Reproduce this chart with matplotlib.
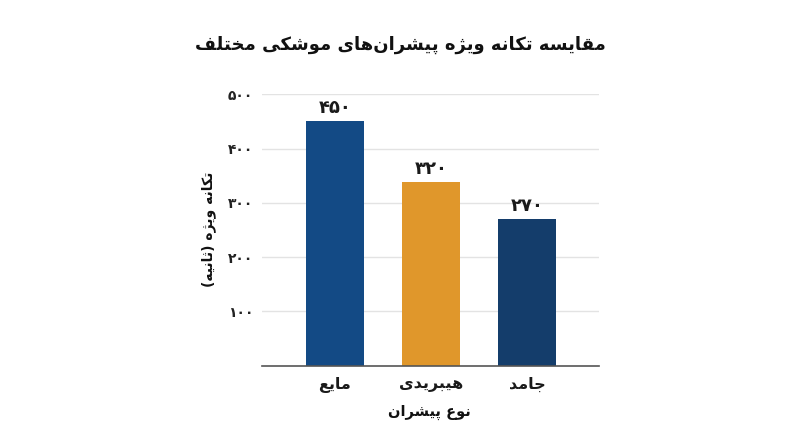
import matplotlib
matplotlib.use("Agg")
import matplotlib.pyplot as plt

# ---------------- data ----------------
title_text = "مقایسه تکانه ویژه پیشران‌های موشکی مختلف"
y_label_text = "تکانه ویژه (ثانیه)"
x_label_text = "نوع پیشران"
categories = ["مایع", "هیبریدی", "جامد"]
values = [450, 338, 270]
value_labels = ["۴۵۰", "۳۲۰", "۲۷۰"]
y_ticks = [100, 200, 300, 400, 500]
y_tick_labels = ["۱۰۰", "۲۰۰", "۳۰۰", "۴۰۰", "۵۰۰"]
bar_colors = ["#134a85", "#e0972b", "#143d6b"]

# ---------------- minimal Arabic/Persian shaping ----------------
FORMS = {  # isolated, final, initial, medial
    "ا": ("\uFE8D", "\uFE8E", None, None),
    "ب": ("\uFE8F", "\uFE90", "\uFE91", "\uFE92"),
    "پ": ("\uFB56", "\uFB57", "\uFB58", "\uFB59"),
    "ت": ("\uFE95", "\uFE96", "\uFE97", "\uFE98"),
    "ث": ("\uFE99", "\uFE9A", "\uFE9B", "\uFE9C"),
    "ج": ("\uFE9D", "\uFE9E", "\uFE9F", "\uFEA0"),
    "خ": ("\uFEA5", "\uFEA6", "\uFEA7", "\uFEA8"),
    "د": ("\uFEA9", "\uFEAA", None, None),
    "ر": ("\uFEAD", "\uFEAE", None, None),
    "ژ": ("\uFB8A", "\uFB8B", None, None),
    "س": ("\uFEB1", "\uFEB2", "\uFEB3", "\uFEB4"),
    "ش": ("\uFEB5", "\uFEB6", "\uFEB7", "\uFEB8"),
    "ع": ("\uFEC9", "\uFECA", "\uFECB", "\uFECC"),
    "ف": ("\uFED1", "\uFED2", "\uFED3", "\uFED4"),
    "ق": ("\uFED5", "\uFED6", "\uFED7", "\uFED8"),
    "ک": ("\uFB8E", "\uFB8F", "\uFB90", "\uFB91"),
    "ل": ("\uFEDD", "\uFEDE", "\uFEDF", "\uFEE0"),
    "م": ("\uFEE1", "\uFEE2", "\uFEE3", "\uFEE4"),
    "ن": ("\uFEE5", "\uFEE6", "\uFEE7", "\uFEE8"),
    "ه": ("\uFEE9", "\uFEEA", "\uFEEB", "\uFEEC"),
    "و": ("\uFEED", "\uFEEE", None, None),
    "ی": ("\uFBFC", "\uFBFD", "\uFBFE", "\uFBFF"),
}


def dual(c):
    return c in FORMS and FORMS[c][2] is not None


def joins(c):
    return c in FORMS


def shape(text):
    out = []
    n = len(text)
    for i, c in enumerate(text):
        if c not in FORMS:
            if c != "\u200c":
                out.append(c)
            continue
        prev = text[i - 1] if i > 0 else ""
        nxt = text[i + 1] if i + 1 < n else ""
        pj = dual(prev)
        nj = dual(c) and joins(nxt)
        iso, fin, ini, med = FORMS[c]
        if pj and nj:
            out.append(med)
        elif pj:
            out.append(fin)
        elif nj:
            out.append(ini)
        else:
            out.append(iso)
    vis = "".join(reversed(out))
    mirror = {"(": ")", ")": "("}
    return "".join(mirror.get(ch, ch) for ch in vis)


FONT = ["DejaVu Sans"]
plt.rcParams["font.family"] = FONT

fig = plt.figure(figsize=(8, 4.47), dpi=100)
ax = fig.add_axes([0.327, 0.182, 0.422, 0.607])

x = list(range(len(categories)))
bars = ax.bar(x, values, width=0.6, color=bar_colors, zorder=3)

for xi, v, lab in zip(x, values, value_labels):
    ax.annotate(lab, (xi, v), xytext=(0, 3), textcoords="offset points",
                ha="center", va="bottom", fontsize=13, fontweight="bold",
                color="#1a1a1a")

ax.set_xlim(-0.76, 2.75)
ax.set_ylim(0, 500)
ax.set_yticks(y_ticks)
ax.set_yticklabels(y_tick_labels, fontsize=10, fontweight="bold", color="#222222")
ax.set_xticks(x)
ax.set_xticklabels([shape(c) for c in categories], fontsize=11.5,
                   fontweight="bold", color="#1a1a1a")
ax.tick_params(axis="both", length=0)
ax.tick_params(axis="y", pad=6)
ax.tick_params(axis="x", pad=8)

ax.grid(axis="y", color="#e3e3e3", linewidth=1, zorder=0)
for s in ["top", "right", "left"]:
    ax.spines[s].set_visible(False)
ax.spines["bottom"].set_color("#555555")
ax.spines["bottom"].set_linewidth(1.2)
ax.spines["bottom"].set_zorder(4)

fig.text(0.5, 1 - 45 / 447, shape(title_text), ha="center", va="center",
         fontsize=13, fontweight="bold", color="#111111")
fig.text(209 / 800, 1 - 229 / 447, shape(y_label_text), ha="center", va="center",
         rotation=90, fontsize=10, fontweight="bold", color="#111111")
fig.text(429 / 800, 1 - 412 / 447, shape(x_label_text), ha="center", va="center",
         fontsize=10.5, fontweight="bold", color="#111111")

fig.savefig("out.png", dpi=100, facecolor="white")
